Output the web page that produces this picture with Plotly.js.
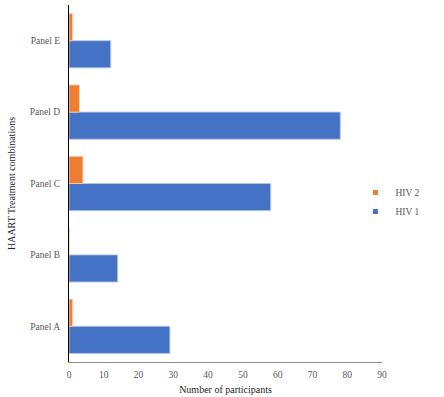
<!DOCTYPE html>
<html><head><meta charset="utf-8">
<script src="https://cdn.plot.ly/plotly-3.0.1.min.js"></script>
<style>html,body{margin:0;padding:0;background:#fff}</style>
</head><body><div id="chart" style="width:444px;height:397px"></div>
<script>
const categories = ["Panel A", "Panel B", "Panel C", "Panel D", "Panel E"];
const hiv1 = [29, 14, 58, 78, 12];
const hiv2 = [1, 0, 4, 3, 1];
const xTicks = [0, 10, 20, 30, 40, 50, 60, 70, 80, 90];

const serif = "Times New Roman, Liberation Serif, serif";
const tf = () => ({family: serif, size: 9.5, color: "#595959"});
const titleFont = () => ({family: serif, size: 10, color: "#262626"});
const blue = "#4472C4", orange = "#ED7D31";

const traces = [
  {type: "bar", orientation: "h", name: "HIV 1", y: categories, x: hiv1, showlegend: false,
   marker: {color: blue, line: {color: "rgba(180,198,231,0.9)", width: 1}}},
  {type: "bar", orientation: "h", name: "HIV 2", y: categories, x: hiv2, showlegend: false,
   marker: {color: orange, line: {color: "rgba(248,203,173,0.9)", width: 1}}},
  {type: "scatter", mode: "markers", name: "HIV 1", x: [null], y: [null], hoverinfo: "skip",
   marker: {symbol: "square", size: 5, color: blue}},
  {type: "scatter", mode: "markers", name: "HIV 2", x: [null], y: [null], hoverinfo: "skip",
   marker: {symbol: "square", size: 5, color: orange}}
];
const layout = {
  width: 444, height: 397,
  margin: {l: 69, r: 62, t: 5, b: 35, autoexpand: false},
  paper_bgcolor: "#fff", plot_bgcolor: "#fff",
  font: {family: serif, size: 10, color: "#595959"},
  barmode: "group", bargap: 0.24, bargroupgap: 0,
  showlegend: true,
  legend: {traceorder: "reversed", x: 0.915, xanchor: "left", y: 0.448, yanchor: "middle",
           font: tf(), itemwidth: 30, tracegroupgap: 0, bgcolor: "rgba(0,0,0,0)"},
  xaxis: {range: [0, 90], tickvals: xTicks, ticktext: xTicks.map(String), showgrid: false, zeroline: false,
          showline: true, linecolor: "#8c8c8c", linewidth: 1, ticks: "", ticklabelstandoff: 4,
          tickfont: tf(),
          title: {text: "Number of participants", font: titleFont(), standoff: 6},
          fixedrange: true},
  yaxis: {type: "category", categoryarray: categories, showgrid: false, zeroline: false, showline: true,
          linecolor: "#000", linewidth: 1, ticks: "",
          ticklabelstandoff: 6, tickfont: tf(),
          title: {text: "HAART Treatment combinations", font: titleFont(), standoff: 12},
          fixedrange: true}
};
Plotly.newPlot("chart", traces, layout, {staticPlot: true, displayModeBar: false});
</script></body></html>
